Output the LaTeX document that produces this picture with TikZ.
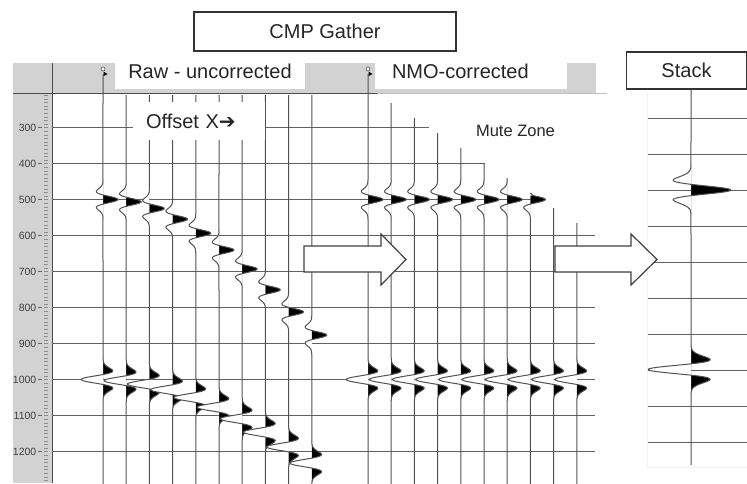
\documentclass[tikz,border=0pt]{standalone}
\usepackage{fontspec}
\setmainfont{Liberation Sans}
\newfontfamily\arrowfont{DejaVu Sans}

\tikzset{
	trace/.style={black!68, line width=1pt},
	gridline/.style={black!62, line width=1pt},
	titlebox/.style={draw=black!80, line width=1.2pt, fill=white, text=black!85, font=\fontsize{20}{24}\selectfont},
	panellabel/.style={fill=white, text=black!85, font=\fontsize{20}{24}\selectfont, minimum height=36pt},
	bigarrow/.style={draw=black!75, line width=1.2pt, fill=white},
}

\pgfmathdeclarefunction{ricker}{2}{%
	\pgfmathparse{(1-2*(#1)*(#1)/(#2)/(#2))*exp(-(#1)*(#1)/(#2)/(#2))}%
}

% fills of one wavelet: x, centre y, amplitude, width, first and last offset
\newcommand{\wavefill}[6]{%
	\begin{scope}
		\clip (#1,{#2+(#5)}) rectangle ({#1+70},{#2+(#6)});
		\fill[black] (#1,{#2+(#5)}) -- plot[domain=#5:#6,samples=50,variable=\s] ({#1+(#3)*ricker(\s,#4)},{#2+\s}) -- (#1,{#2+(#6)}) -- cycle;
	\end{scope}
	\begin{scope}
		\clip ({#1-70},{#2+(#5)}) rectangle (#1,{#2+(#6)});
		\fill[white] (#1,{#2+(#5)}) -- plot[domain=#5:#6,samples=50,variable=\s] ({#1+(#3)*ricker(\s,#4)},{#2+\s}) -- (#1,{#2+(#6)}) -- cycle;
	\end{scope}
}

\begin{document}
\begin{tikzpicture}[x=1pt,y=-1pt]
	\useasboundingbox (0,0) rectangle (747,483);
	% Header strip and time axis
	\fill[gray!35] (13,63) rectangle (596,93.5);
	\fill[gray!35] (13,93.5) rectangle (52,483);
	\draw[black!25, line width=0.6pt] (377,93.5) -- (607,93.5);
	\draw[black!70, line width=1pt] (13,93.5) -- (377,93.5);
	\draw[black!70, line width=0.9pt] (52,63) -- (52,483);
	\foreach \tm in {210,220,...,1290}
		\draw[black!45, line width=0.4pt] (44,{127.5+(\tm-300)*0.36}) -- (47.5,{127.5+(\tm-300)*0.36});
	\foreach \tm in {300,400,...,1200} {
		\draw[black!60, line width=0.6pt] (37.5,{127.5+(\tm-300)*0.36}) -- (42,{127.5+(\tm-300)*0.36});
		\node[anchor=east, inner sep=0pt, text=black!75, font=\fontsize{10.5}{12}\selectfont] (t\tm) at (36.5,{127.5+(\tm-300)*0.36}) {\tm};
	}

	% Grid lines, cut at the mute line
	\foreach \n in {0,...,9} {
		\pgfmathsetmacro{\yn}{127.5+36*\n}
		\pgfmathsetmacro{\xe}{min(595,391.2+1.547*(\yn-103))}
		\draw[gridline] (52,\yn) -- (\xe,\yn);
		\draw[gridline] (647,{118+36*\n}) -- (747,{118+36*\n}); % stack
	}
	\draw[black!5] (647,92) -- (647,467) -- (747,467);

	% Raw gather
	\foreach \i in {0,...,9} {
		\pgfmathsetmacro{\xr}{103+23.2*\i}
		\pgfmathsetmacro{\ya}{127.5+36*(sqrt(25+0.64*\i*\i)-3)}
		\pgfmathsetmacro{\yb}{127.5+36*(sqrt(100+0.64*\i*\i)-3)}
		\pgfmathsetmacro{\ytop}{\i==0 ? 74 : 95}
		\wavefill{\xr}{\ya}{15}{6.5}{-20.8}{20.8}
		\wavefill{\xr}{\yb}{-22}{7}{-22.4}{22.4}
		\draw[trace] (\xr,\ytop) -- plot[domain=-20.8:20.8,samples=50,variable=\s] ({\xr+15*ricker(\s,6.5)},{\ya+\s})
			-- plot[domain=-22.4:22.4,samples=50,variable=\s] ({\xr-22*ricker(\s,7)},{\yb+\s}) -- (\xr,490);
	}

	% NMO-corrected gather
	\foreach \j/\off in {0/-20.8,1/-20.8,2/-20.8,3/-20.8,4/-20.8,5/-20.8,6/-20.8,7/-4} {
		\pgfmathsetmacro{\xr}{368+23.2*\j}
		\pgfmathsetmacro{\ytop}{\j==0 ? 74 : 103+15*(\j-1)}
		\wavefill{\xr}{199.5}{15}{6.5}{\off}{20.8}
		\wavefill{\xr}{379.5}{-22}{7}{-22.4}{22.4}
		\draw[trace] (\xr,\ytop) -- plot[domain=\off:20.8,samples=50,variable=\s] ({\xr+15*ricker(\s,6.5)},{199.5+\s})
			-- plot[domain=-22.4:22.4,samples=50,variable=\s] ({\xr-22*ricker(\s,7)},{379.5+\s}) -- (\xr,490);
	}
	\foreach \j in {8,9} {
		\pgfmathsetmacro{\xr}{368+23.2*\j}
		\wavefill{\xr}{379.5}{-22}{7}{-22.4}{22.4}
		\draw[trace] (\xr,{103+15*(\j-1)}) -- plot[domain=-22.4:22.4,samples=50,variable=\s] ({\xr-22*ricker(\s,7)},{379.5+\s}) -- (\xr,490);
	}

	% Stack trace
	\wavefill{691}{190}{40}{8}{-25.6}{25.6}
	\wavefill{691}{369.5}{-43}{8}{-25.6}{25.6}
	\draw[trace] (691,89) -- plot[domain=-25.6:25.6,samples=60,variable=\s] ({691+40*ricker(\s,8)},{190+\s})
		-- plot[domain=-25.6:25.6,samples=60,variable=\s] ({691-43*ricker(\s,8)},{369.5+\s}) -- (691,465);

	% Labels and boxes
	\node[panellabel, minimum width=190pt] (rawlabel) at (210,71) {Raw - uncorrected};
	\node[panellabel, text width=158pt, inner xsep=17pt, align=left] (nmolabel) at (471,71) {NMO-corrected};
	\node[fill=white, text=black!85, font=\fontsize{20}{24}\selectfont, text width=106pt, inner xsep=13pt, minimum height=38pt, align=left] (offsetlabel) at (199,121) {Offset X{\arrowfont ➔}};
	\node[text=black!85, font=\fontsize{16.5}{20}\selectfont] (mutezone) at (515.5,131) {Mute Zone};
	\node[titlebox, minimum width=262pt, minimum height=39pt] (cmpbox) at (325,31.5) {CMP Gather};
	\node[titlebox, minimum width=120pt, minimum height=37pt] (stackbox) at (686.5,70.5) {Stack};

	% Trace markers in the header
	\foreach \xs in {103,368} {
		\draw[black!70, line width=0.6pt, fill=white] (\xs,69) circle (2);
		\fill[black] ({\xs+0.5},71.5) -- ({\xs+4.5},74) -- ({\xs+0.5},76) -- cycle;
	}

	% Block arrows
	\draw[bigarrow] (304,246) -- (381,246) -- (381,234) -- (406,259.5) -- (381,285) -- (381,272) -- (304,272) -- cycle;
	\draw[bigarrow] (555,246) -- (631,246) -- (631,234) -- (657,259.5) -- (631,285) -- (631,272) -- (555,272) -- cycle;
\end{tikzpicture}
\end{document}
